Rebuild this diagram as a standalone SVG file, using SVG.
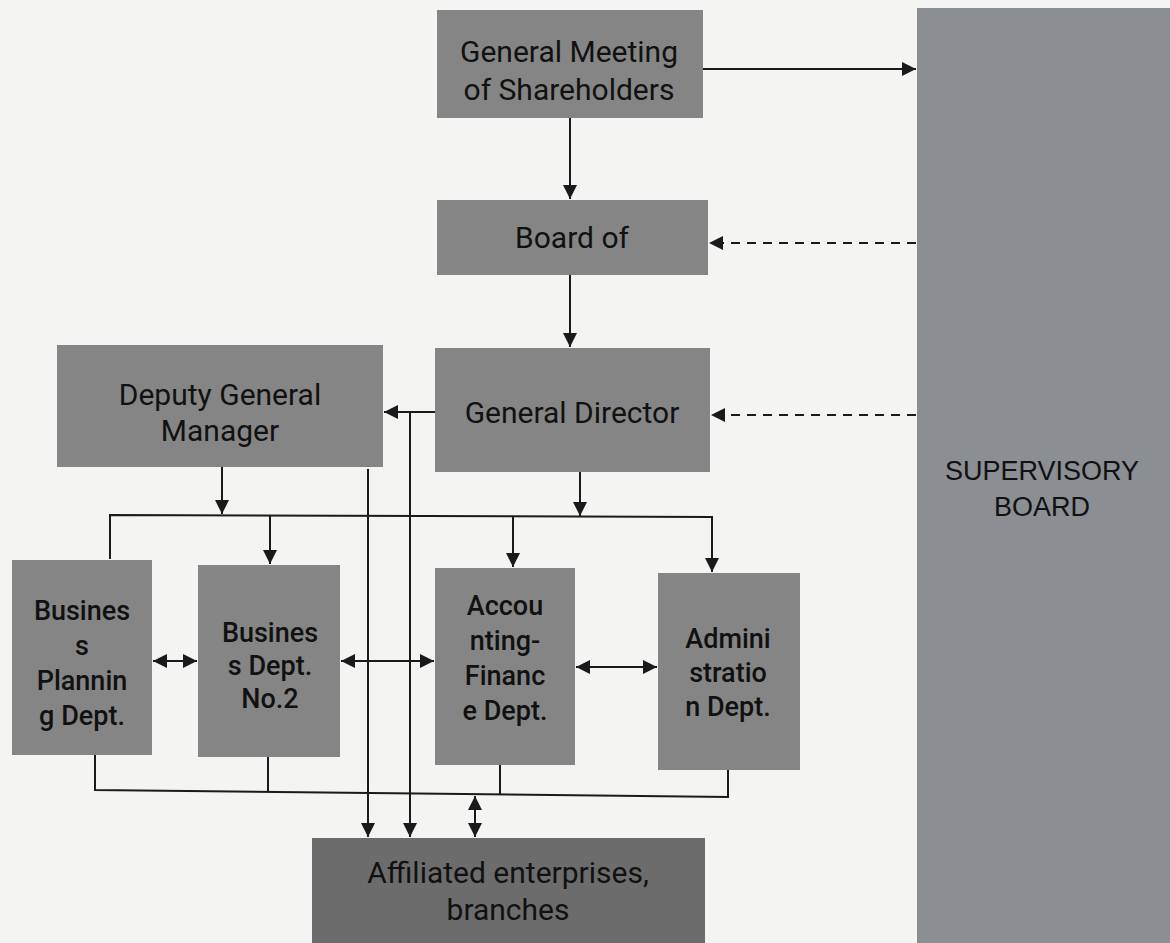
<svg xmlns="http://www.w3.org/2000/svg" width="1170" height="943" viewBox="0 0 1170 943">
<style>
.box{fill:#858585;}
.dark{fill:#6c6c6c;}
.sb{fill:#8b8e93;}
.t{font-family:Roboto,"Liberation Sans",sans-serif;font-size:30px;fill:#111;text-anchor:middle;}
.s{font-family:Roboto,"Liberation Sans",sans-serif;font-size:27px;fill:#111;text-anchor:middle;font-weight:500;}
.a{font-family:"Liberation Sans",Arial,sans-serif;font-size:27px;fill:#111;text-anchor:middle;}
.ln{stroke:#1a1a1a;stroke-width:2;fill:none;}
.dash{stroke:#1a1a1a;stroke-width:2;fill:none;stroke-dasharray:9 7;}
</style>
<defs>
<marker id="ahb" viewBox="0 0 10 10" refX="10" refY="5" markerWidth="14" markerHeight="14" orient="auto-start-reverse" markerUnits="userSpaceOnUse">
<path d="M0,0 L10,5 L0,10 z" fill="#1a1a1a"/>
</marker>
</defs>
<rect width="1170" height="943" fill="#f4f4f3"/>

<g id="supervisory-board">
<rect class="sb" x="917" y="8" width="253" height="935"/>
<text class="a" x="1042" y="480">SUPERVISORY</text>
<text class="a" x="1042" y="516">BOARD</text>
</g>
<g id="general-meeting">
<rect class="box" x="437" y="10" width="266" height="108"/>
<text class="t" x="569" y="62">General Meeting</text>
<text class="t" x="569" y="100">of Shareholders</text>
</g>
<g id="board">
<rect class="box" x="437" y="200" width="271" height="75"/>
<text class="t" x="572" y="248">Board of</text>
</g>
<g id="deputy-gm">
<rect class="box" x="57" y="345" width="326" height="122"/>
<text class="t" x="220" y="405">Deputy General</text>
<text class="t" x="220" y="441">Manager</text>
</g>
<g id="general-director">
<rect class="box" x="435" y="348" width="275" height="124"/>
<text class="t" x="572" y="423">General Director</text>
</g>
<g id="business-planning">
<rect class="box" x="12" y="560" width="140" height="195"/>
<text class="s" x="82" y="620">Busines</text>
<text class="s" x="82" y="655">s</text>
<text class="s" x="82" y="690">Plannin</text>
<text class="s" x="82" y="725">g Dept.</text>
</g>
<g id="business-dept-2">
<rect class="box" x="198" y="565" width="142" height="192"/>
<text class="s" x="270" y="642">Busines</text>
<text class="s" x="270" y="675">s Dept.</text>
<text class="s" x="270" y="708">No.2</text>
</g>
<g id="accounting">
<rect class="box" x="435" y="568" width="140" height="197"/>
<text class="s" x="505" y="615">Accou</text>
<text class="s" x="505" y="650">nting-</text>
<text class="s" x="505" y="685">Financ</text>
<text class="s" x="505" y="720">e Dept.</text>
</g>
<g id="administration">
<rect class="box" x="658" y="573" width="142" height="197"/>
<text class="s" x="728" y="648">Admini</text>
<text class="s" x="728" y="682">stratio</text>
<text class="s" x="728" y="716">n Dept.</text>
</g>
<g id="affiliated">
<rect class="dark" x="312" y="838" width="393" height="105"/>
<text class="t" x="508" y="883">Affiliated enterprises,</text>
<text class="t" x="508" y="920">branches</text>
</g>

<g id="connectors">
<line class="ln" x1="703" y1="69" x2="916" y2="69" marker-end="url(#ahb)"/>
<line class="ln" x1="570" y1="118" x2="570" y2="199" marker-end="url(#ahb)"/>
<line class="ln" x1="570" y1="275" x2="570" y2="347" marker-end="url(#ahb)"/>
<line class="dash" x1="916" y1="243" x2="709" y2="243" marker-end="url(#ahb)"/>
<line class="dash" x1="916" y1="415" x2="711" y2="415" marker-end="url(#ahb)"/>
<line class="ln" x1="435" y1="412" x2="384" y2="412" marker-end="url(#ahb)"/>
<line class="ln" x1="368" y1="469" x2="368" y2="837" marker-end="url(#ahb)"/>
<line class="ln" x1="410" y1="412" x2="410" y2="837" marker-end="url(#ahb)"/>
<line class="ln" x1="222" y1="467" x2="222" y2="514" marker-end="url(#ahb)"/>
<line class="ln" x1="580" y1="472" x2="580" y2="516" marker-end="url(#ahb)"/>
<polyline class="ln" points="110,559 110,515 712,517 712,572" marker-end="url(#ahb)"/>
<line class="ln" x1="270" y1="515" x2="270" y2="564" marker-end="url(#ahb)"/>
<line class="ln" x1="513" y1="516" x2="513" y2="567" marker-end="url(#ahb)"/>
<line class="ln" x1="153" y1="661" x2="197" y2="661" marker-start="url(#ahb)" marker-end="url(#ahb)"/>
<line class="ln" x1="341" y1="661" x2="434" y2="661" marker-start="url(#ahb)" marker-end="url(#ahb)"/>
<line class="ln" x1="576" y1="667" x2="657" y2="667" marker-start="url(#ahb)" marker-end="url(#ahb)"/>
<polyline class="ln" points="95,755 95,790 728,797 728,770"/>
<line class="ln" x1="268" y1="757" x2="268" y2="792"/>
<line class="ln" x1="500" y1="765" x2="500" y2="795"/>
<line class="ln" x1="475" y1="796" x2="475" y2="837" marker-start="url(#ahb)" marker-end="url(#ahb)"/>
</g>
</svg>
